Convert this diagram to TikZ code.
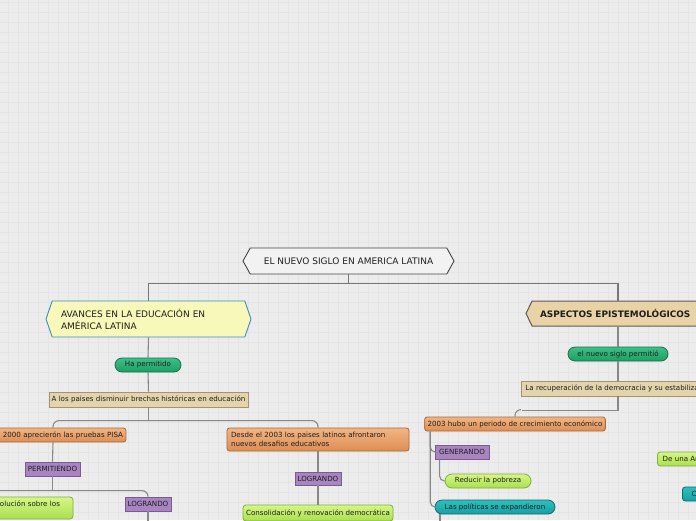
\documentclass[tikz,border=0pt]{standalone}
\usepackage{fontspec}
\setmainfont{DejaVu Sans}
\usetikzlibrary{shapes.symbols,shapes.misc,calc}
\definecolor{bg}{HTML}{ECECEC}
\definecolor{gridc}{HTML}{E4E4E4}
\definecolor{linec}{HTML}{888888}
\definecolor{rootline}{HTML}{777777}
\definecolor{txt}{HTML}{1E1E1E}
\definecolor{rootf}{HTML}{F2F2F2}
\definecolor{rootb}{HTML}{444444}
\definecolor{avf}{HTML}{F8F8BA}
\definecolor{avb}{HTML}{3A8DC2}
\definecolor{aspf}{HTML}{E8D2A6}
\definecolor{aspb}{HTML}{5A5A5A}
\definecolor{tanf}{HTML}{E4D4AC}
\definecolor{tanb}{HTML}{A39373}
\definecolor{ort}{HTML}{F2B584}
\definecolor{orbt}{HTML}{DD8E55}
\definecolor{orb}{HTML}{A8683A}
\definecolor{puf}{HTML}{A885C0}
\definecolor{pub}{HTML}{7A5A92}
\definecolor{gpt}{HTML}{3CC088}
\definecolor{gpbt}{HTML}{1E9E62}
\definecolor{gpb}{HTML}{1D6E45}
\definecolor{lmt}{HTML}{D6F686}
\definecolor{lmbt}{HTML}{A8E04E}
\definecolor{lmb}{HTML}{80AE40}
\definecolor{tlt}{HTML}{2CC0C0}
\definecolor{tlbt}{HTML}{16A0A2}
\definecolor{tlb}{HTML}{106A6C}
\tikzset{
  conn/.style={draw=linec, line width=1.1pt},
  rootconn/.style={draw=rootline, line width=1.3pt},
  base/.style={inner sep=0pt, text=txt, font=\fontsize{7.1}{9}\selectfont},
  rootnode/.style={base, signal, signal to=west and east, signal pointer angle=122,
     draw=rootb, fill=rootf, line width=0.9pt, font=\fontsize{9}{11}\selectfont},
  avnode/.style={base, signal, signal to=west and east, signal pointer angle=142,
     draw=avb, fill=avf, line width=0.9pt, font=\fontsize{9}{12}\selectfont, align=left},
  aspnode/.style={base, signal, signal to=west and east, signal pointer angle=128,
     draw=aspb, fill=aspf, line width=1pt, font=\bfseries\fontsize{8.9}{11}\selectfont, align=left},
  tanbox/.style={base, rectangle, draw=tanb, fill=tanf, line width=0.9pt},
  orangebox/.style={base, rectangle, rounded corners=2.5pt, draw=orb, top color=ort, bottom color=orbt, line width=0.8pt},
  purplebox/.style={base, rectangle, draw=pub, fill=puf, line width=0.8pt},
  greenpill/.style={base, rounded rectangle, draw=gpb, top color=gpt, bottom color=gpbt, line width=0.8pt},
  limepill/.style={base, rounded rectangle, draw=lmb, top color=lmt, bottom color=lmbt, line width=0.8pt},
  limebox/.style={base, rectangle, rounded corners=3pt, draw=lmb, top color=lmt, bottom color=lmbt, line width=0.8pt},
  tealpill/.style={base, rounded rectangle, draw=tlb, top color=tlt, bottom color=tlbt, line width=0.8pt},
  tealbox/.style={base, rectangle, rounded corners=3pt, draw=tlb, top color=tlt, bottom color=tlbt, line width=0.8pt}
}
\begin{document}
\begin{tikzpicture}[x=1pt,y=-1pt]
\useasboundingbox (0,0) rectangle (696,520);
\fill[bg] (0,0) rectangle (696,520);
\begin{scope}
\clip (0,0) rectangle (696,520);
\foreach \gx in {8,18,...,698} {\draw[gridc, line width=0.5pt] (\gx,0) -- (\gx,520);}
\foreach \gy in {2,12,...,522} {\draw[gridc, line width=0.5pt] (0,\gy) -- (696,\gy);}

% nodes
\node[rootnode, minimum width=211, minimum height=26] (root) at (348.5,261) {EL NUEVO SIGLO EN AMERICA LATINA};
\node[avnode, minimum width=205, minimum height=36, text width=175] (avn) at (148.5,319) {AVANCES EN LA EDUCACIÓN EN\\AMÉRICA LATINA};
\node[aspnode, minimum width=184, minimum height=25, text width=156] (asp) at (618,313.5) {ASPECTOS EPISTEMOLÓGICOS};

\node[greenpill, minimum width=66, minimum height=14] (ha) at (148,365) {Ha permitido};
\node[tanbox, minimum width=199, minimum height=15] (brechas) at (148.5,399.5) {A los paises disminuir brechas históricas en educación};
\node[orangebox, minimum width=146, minimum height=14, text width=140, align=right] (pisa) at (53,435) {2000 aprecierón las pruebas PISA};
\node[orangebox, minimum width=182, minimum height=23, text width=174, align=left] (desde) at (318,439.5) {Desde el 2003 los paises latinos afrontaron\\nuevos desafios educativos};
\node[purplebox, minimum width=55, minimum height=14] (perm) at (52.5,469) {PERMITIENDO};
\node[limebox, minimum width=160, minimum height=22, text width=158, align=left] (olu) at (-7,508) {\hspace*{86pt}olución sobre los\\\mbox{}};
\node[purplebox, minimum width=46, minimum height=14] (log1) at (148,504) {LOGRANDO};
\node[purplebox, minimum width=46, minimum height=13] (log2) at (318,478.5) {LOGRANDO};
\node[limebox, minimum width=150, minimum height=16] (consol) at (318,513) {Consolidación y renovación democrática};

\node[greenpill, minimum width=100, minimum height=14] (nsp) at (618,354) {el nuevo siglo permitió};
\node[tanbox, minimum width=194, minimum height=15, inner xsep=4pt, anchor=west] (recup) at (521,388.5) {La recuperación de la democracia y su estabilización};
\node[orangebox, minimum width=180, minimum height=14, inner xsep=3pt] (crec) at (515,424) {2003 hubo un periodo de crecimiento económico};
\node[purplebox, minimum width=54, minimum height=14] (gen) at (462,452) {GENERANDO};
\node[limepill, minimum width=86, minimum height=14] (reduc) at (488,481) {Reducir la pobreza};
\node[tealpill, minimum width=120, minimum height=14] (pol) at (495,507) {Las políticas se expandieron};
\node[limebox, minimum width=80, minimum height=14, inner xsep=4pt, anchor=west] (deuna) at (657,459) {De una Am\hspace*{30pt}};
\node[tealbox, minimum width=60, minimum height=14, inner xsep=4pt, anchor=west] (clu) at (682,494) {Clu\hspace*{30pt}};

% connectors
\draw[rootconn] (root.south) -- ++(0,9) -| (avn.north);
\draw[rootconn] (root.south) -- ++(0,9) -| (asp.north);
\draw[conn] (avn.south) -- (ha.north);
\draw[conn] (ha.south) -- (brechas.north);
\draw[conn] (brechas.south) -- ++(0,14);
\draw[conn, rounded corners=6pt] (pisa.north) -- ++(0,-7) -| (desde.north);
\draw[conn] (pisa.south) -- (perm.north);
\draw[conn] (perm.south) -- ++(0,15);
\draw[conn, rounded corners=6pt] (olu.north) -- ++(0,-6) -| (log1.north);
\draw[conn] (log1.south) -- ++(0,12);
\draw[conn] (desde.south) -- (log2.north);
\draw[conn] (log2.south) -- (consol.north);

\draw[conn] (asp.south) -- (nsp.north);
\draw[conn] (nsp.south) -- (nsp.south |- recup.north);
\coordinate (rj) at (nsp.south |- recup.south);
\draw[conn] (rj) -- ++(0,14) -- ++(-96,0);
\draw[conn, rounded corners=6pt] (crec.north) -- ++(0,-7) -- ++(6,0);
\draw[conn, rounded corners=5pt] ([xshift=6pt]crec.south west) |- (gen.west);
\draw[conn, rounded corners=5pt] ([xshift=6pt]crec.south west) |- (pol.west);
\draw[conn, rounded corners=5pt] ([xshift=5pt]gen.south west) |- (reduc.west);
\draw[conn] ($(pol.south)+(-55,0)$) -- ++(0,8);
\end{scope}
\end{tikzpicture}
\end{document}
